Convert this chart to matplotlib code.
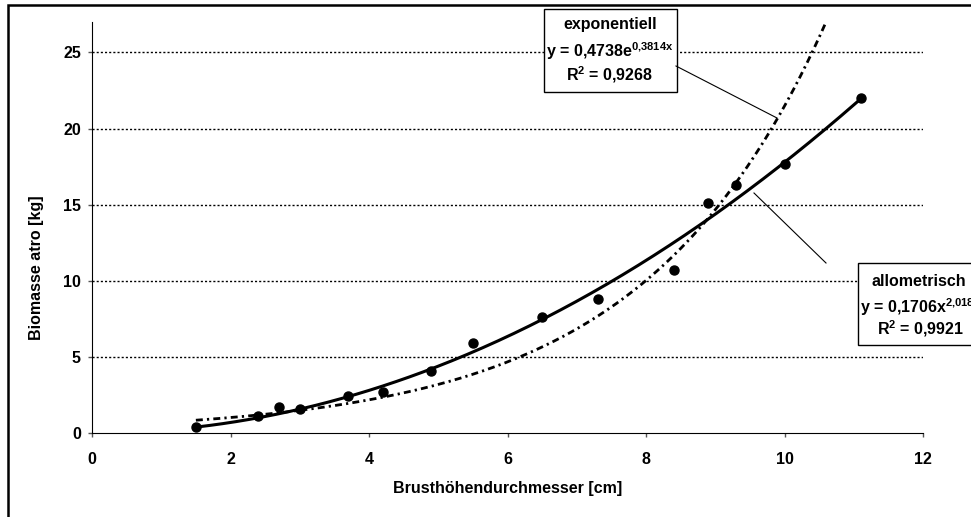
import numpy as np
import matplotlib
matplotlib.use('Agg')
import matplotlib.pyplot as plt
from matplotlib.patches import Rectangle

plt.rcParams['font.family'] = ['Liberation Sans', 'DejaVu Sans']
plt.rcParams['font.weight'] = 'bold'
plt.rcParams['mathtext.fontset'] = 'custom'
plt.rcParams['mathtext.rm'] = 'Liberation Sans:bold'
plt.rcParams['mathtext.it'] = 'Liberation Sans:bold'
plt.rcParams['mathtext.bf'] = 'Liberation Sans:bold'

# Messwerte
bhd_cm = [1.5, 2.4, 2.7, 3.0, 3.7, 4.2, 4.9, 5.5, 6.5, 7.3, 8.4, 8.9, 9.3, 10.0, 11.1]
biomasse_kg = [0.4, 1.1, 1.7, 1.6, 2.4, 2.7, 4.1, 5.9, 7.6, 8.8, 10.7, 15.1, 16.3, 17.7, 22.0]

# Trendlinien-Koeffizienten (aus den Gleichungen im Diagramm)
exp_a, exp_b = 0.4738, 0.3814
allo_a, allo_b = 0.1706, 2.018

x_ticks = [0, 2, 4, 6, 8, 10, 12]
y_ticks = [0, 5, 10, 15, 20, 25]

W, H = 971, 517
fs = 11.5

fig = plt.figure(figsize=(W / 100, H / 100), dpi=100)
ax = fig.add_axes([92 / W, 1 - 433 / H, 831 / W, 411 / H])

# Rahmen um das Diagramm
fig.patches.append(Rectangle((8 / W, -0.05), 1.2, 1 - 5 / H + 0.05,
                             transform=fig.transFigure, fill=False,
                             edgecolor='black', linewidth=1.8, clip_on=False))

# Gitterlinien
for yv in y_ticks[1:]:
    ax.axhline(yv, color='black', linewidth=1.0, linestyle=(0, (1.5, 1.5)), zorder=1)

xs = np.linspace(min(bhd_cm), max(bhd_cm), 300)
ax.plot(xs, allo_a * xs ** allo_b, color='black', linewidth=2.2, zorder=3)
ax.plot(xs, exp_a * np.exp(exp_b * xs), color='black', linewidth=2.0,
        linestyle=(0, (2.5, 1.5, 0.8, 1.5)), zorder=3)
ax.plot(bhd_cm, biomasse_kg, 'o', color='black', markersize=6.5, zorder=4)

ax.set_xlim(0, 12)
ax.set_ylim(0, 27)
ax.set_xticks(x_ticks)
ax.set_yticks(y_ticks)
ax.spines['top'].set_visible(False)
ax.spines['right'].set_visible(False)
ax.tick_params(axis='both', direction='out', length=3, width=1, color='#555555',
               labelsize=fs)
ax.xaxis.set_tick_params(pad=10.5)
ax.yaxis.set_tick_params(pad=5)
for lbl in ax.get_xticklabels() + ax.get_yticklabels():
    lbl.set_fontweight('bold')

# Achsenbeschriftungen
fig.text(508 / W, 1 - 488 / H, 'Brusthöhendurchmesser [cm]', ha='center', va='center',
         fontsize=fs, fontweight='bold')
fig.text(37 / W, 1 - 268 / H, 'Biomasse atro [kg]', ha='center', va='center',
         rotation=90, fontsize=fs, fontweight='bold')

# Textfeld exponentiell
fig.patches.append(Rectangle((544 / W, 1 - 92 / H), 133 / W, 83 / H,
                             transform=fig.transFigure, facecolor='white',
                             edgecolor='black', linewidth=1.0))
fig.text(610 / W, 1 - 25 / H, 'exponentiell', ha='center', va='center', fontsize=fs, fontweight='bold')
fig.text(610 / W, 1 - 51 / H, r'y = 0,4738e$^{0{,}3814x}$', ha='center', va='center',
         fontsize=fs, fontweight='bold')
fig.text(610 / W, 1 - 75 / H, r'R$^{2}$ = 0,9268', ha='center', va='center',
         fontsize=fs, fontweight='bold')
fig.add_artist(plt.Line2D([676 / W, 777 / W], [1 - 66 / H, 1 - 118 / H],
                          transform=fig.transFigure, color='black', linewidth=0.8))

# Textfeld allometrisch (rechts angeschnitten wie im Original)
fig.patches.append(Rectangle((858 / W, 1 - 345 / H), 150 / W, 82 / H,
                             transform=fig.transFigure, facecolor='white',
                             edgecolor='black', linewidth=1.0, clip_on=False))
fig.text(919 / W, 1 - 282 / H, 'allometrisch', ha='center', va='center', fontsize=fs, fontweight='bold')
fig.text(860 / W, 1 - 307 / H, r'y = 0,1706x$^{2{,}018}$', ha='left', va='center',
         fontsize=fs, fontweight='bold')
fig.text(921 / W, 1 - 329 / H, r'R$^{2}$ = 0,9921', ha='center', va='center',
         fontsize=fs, fontweight='bold')
fig.add_artist(plt.Line2D([754 / W, 826 / W], [1 - 193 / H, 1 - 263 / H],
                          transform=fig.transFigure, color='black', linewidth=0.8))

fig.savefig('out.png', dpi=100)
